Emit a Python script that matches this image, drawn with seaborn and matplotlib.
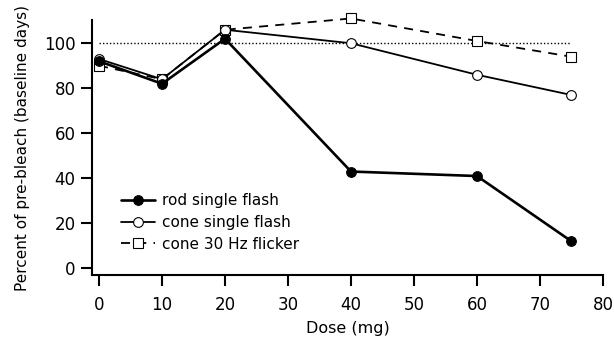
import matplotlib
matplotlib.use("Agg")
import matplotlib.pyplot as plt
import seaborn as sns
import pandas as pd

dose = [0, 10, 20, 40, 60, 75]
rod_single = [92, 82, 102, 43, 41, 12]
cone_single = [93, 84, 106, 100, 86, 77]
cone_flicker = [90, 84, 106, 111, 101, 94]
series_names = ["rod single flash", "cone single flash", "cone 30 Hz flicker"]
x_ticks = [0, 10, 20, 30, 40, 50, 60, 70, 80]
y_ticks = [0, 20, 40, 60, 80, 100]

sns.set_theme(style="ticks")
plt.rcParams['font.family'] = ['DejaVu Sans']
plt.rcParams['text.color'] = 'black'
plt.rcParams['axes.labelcolor'] = 'black'

fig = plt.figure(figsize=(6.14, 3.4), dpi=100)
ax = fig.add_axes([0.150, 0.191, 0.832, 0.750])

ax.plot([0, 75], [100, 100], linestyle=(0, (1, 1.5)), color="black", lw=1.0, zorder=1)

df_rod = pd.DataFrame({"x": dose, "y": rod_single})
df_cone = pd.DataFrame({"x": dose, "y": cone_single})
df_flk = pd.DataFrame({"x": dose, "y": cone_flicker})

ms = 7
sns.lineplot(data=df_flk, x="x", y="y", ax=ax, color="black", lw=1.3,
             linestyle=(0, (5, 4)), marker="s", markersize=ms - 0.3,
             markerfacecolor="white", markeredgecolor="black", markeredgewidth=0.8,
             label=series_names[2], zorder=2, clip_on=False)
sns.lineplot(data=df_cone, x="x", y="y", ax=ax, color="black", lw=1.3,
             marker="o", markersize=ms, markerfacecolor="white",
             markeredgecolor="black", markeredgewidth=0.8,
             label=series_names[1], zorder=3, clip_on=False)
sns.lineplot(data=df_rod, x="x", y="y", ax=ax, color="black", lw=1.9,
             marker="o", markersize=ms, markerfacecolor="black",
             markeredgecolor="black", label=series_names[0], zorder=4, clip_on=False)

ax.set_xlim(-1.1, 80)
ax.set_ylim(-3, 110.3)
ax.set_xticks(x_ticks)
ax.set_yticks(y_ticks)
ax.tick_params(axis="both", direction="out", length=8, width=1.5, labelsize=12,
               colors="black")
ax.tick_params(axis="x", pad=7)
ax.tick_params(axis="y", pad=4)
for s in ["top", "right"]:
    ax.spines[s].set_visible(False)
for s in ["left", "bottom"]:
    ax.spines[s].set_linewidth(1.5)
    ax.spines[s].set_color("black")

ax.set_xlabel("Dose (mg)", fontsize=11.5, labelpad=5)
ax.set_ylabel("Percent of pre-bleach (baseline days)", fontsize=11, labelpad=10)

handles, labels = ax.get_legend_handles_labels()
order = [labels.index(n) for n in series_names]
ax.legend([handles[i] for i in order], [labels[i] for i in order],
          loc="upper left", bbox_to_anchor=(121 / 614, 1 - 193 / 340),
          bbox_transform=fig.transFigure, frameon=False,
          fontsize=11, handlelength=2.2, handletextpad=0.5, labelspacing=0.45,
          borderaxespad=0, borderpad=0)

fig.savefig("out.png", dpi=100)
